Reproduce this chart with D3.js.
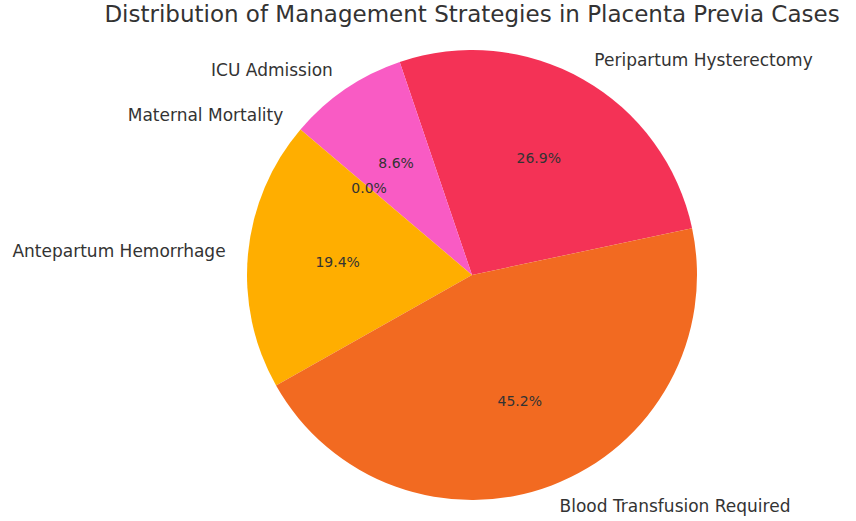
<!DOCTYPE html>
<html><head><meta charset="utf-8">
<script src="https://cdn.jsdelivr.net/npm/d3@7"></script>
<style>body{margin:0;background:#fff}text{font-family:"DejaVu Sans",sans-serif;fill:#333}</style>
</head><body><svg id="c" width="856" height="521"></svg>
<script>
const categories = ["Peripartum Hysterectomy","ICU Admission","Maternal Mortality","Antepartum Hemorrhage","Blood Transfusion Required"];
const values = [26.9, 8.6, 0.0, 19.4, 45.2];
const colors = ["#f43256","#f95bc4","#8c8cff","#ffae00","#f26a21"];
const title = "Distribution of Management Strategies in Placenta Previa Cases";

const svg = d3.select("#c");
const cx = 472, cy = 275, R = 225;
const start = Math.PI/2 - 12*Math.PI/180;
const pie = d3.pie().sort(null).startAngle(start).endAngle(start - 2*Math.PI);
const arcs = pie(values);
const total = d3.sum(values);
const arc = d3.arc().innerRadius(0).outerRadius(R);
const g = svg.append("g").attr("transform", `translate(${cx},${cy})`);
g.selectAll("path").data(arcs).enter().append("path")
  .attr("d", arc).attr("fill", (d,i)=>colors[i]);
arcs.forEach((d,i)=>{
  const a = (d.startAngle + d.endAngle)/2;
  const lx = 1.1*R*Math.sin(a), ly = -1.1*R*Math.cos(a);
  g.append("text").attr("x", lx).attr("y", ly).attr("dy","0.35em")
    .attr("text-anchor", lx >= 0 ? "start" : "end").attr("font-size", 17)
    .text(categories[i]);
  const px = 0.6*R*Math.sin(a), py = -0.6*R*Math.cos(a);
  g.append("text").attr("x", px).attr("y", py).attr("dy","0.35em")
    .attr("text-anchor","middle").attr("font-size", 14)
    .text((values[i]/total*100).toFixed(1) + "%");
});
svg.append("text").attr("x", 472).attr("y", 22).attr("text-anchor","middle")
  .attr("font-size", 23).text(title);
</script></body></html>
